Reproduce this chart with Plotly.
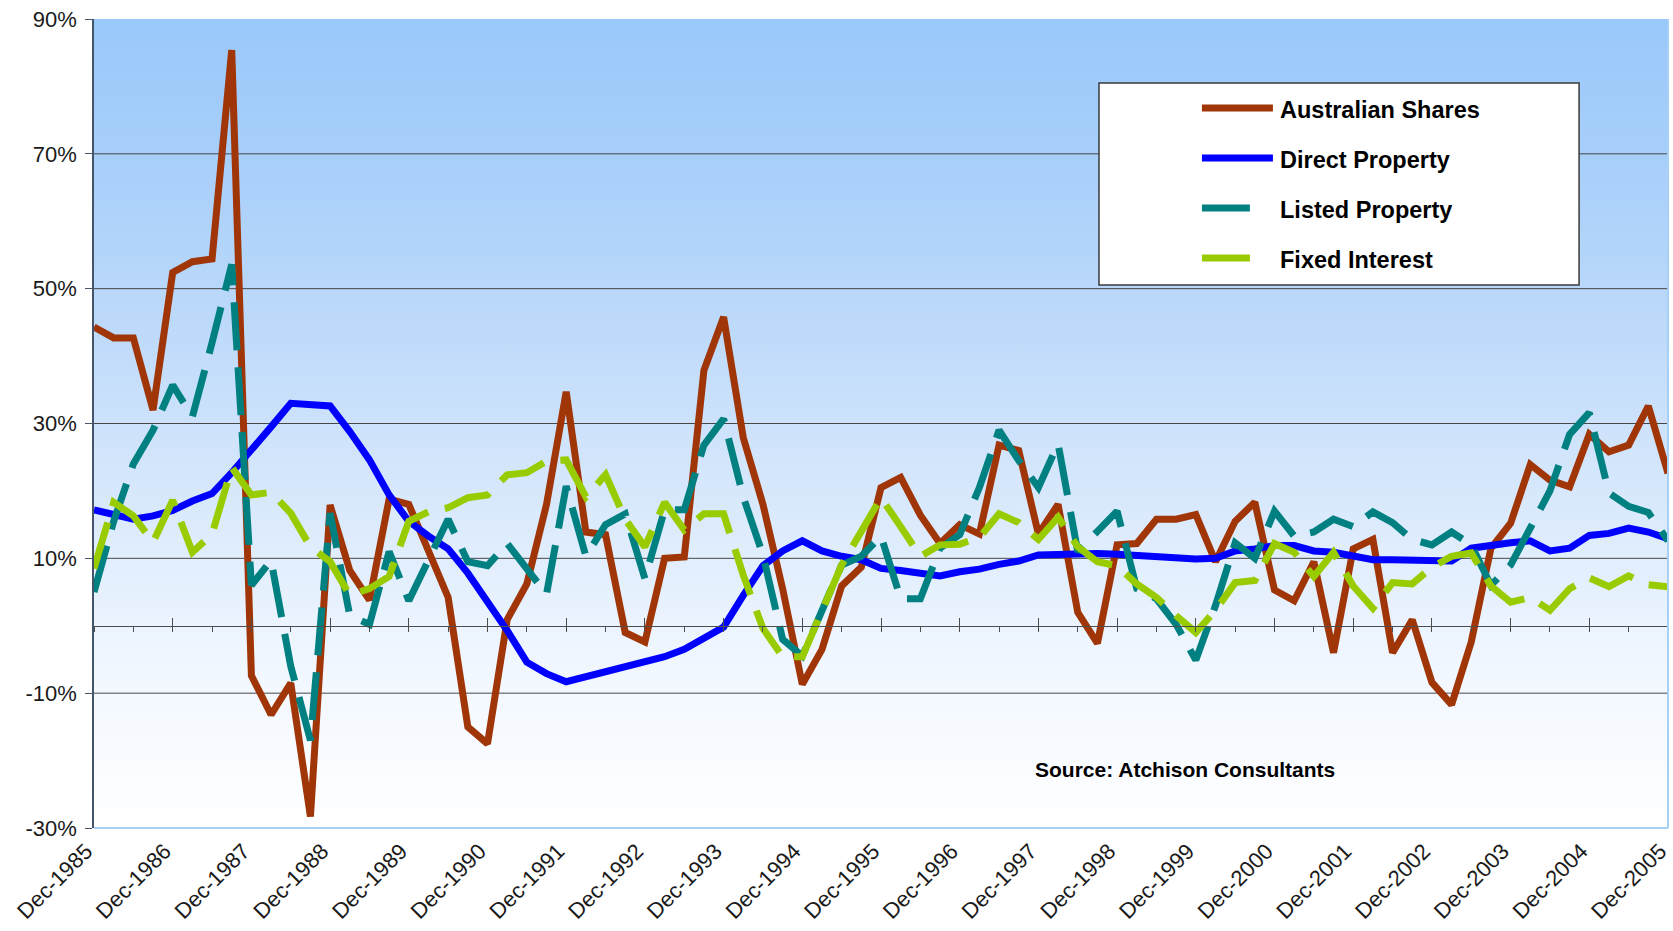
import plotly.graph_objects as go

# Quarterly observations, Dec-1985 through Dec-2005
MONTHS = ["Mar", "Jun", "Sep", "Dec"]
quarters = ["Dec-1985"] + [f"{m}-{y}" for y in range(1986, 2006) for m in MONTHS]

# Rolling annual returns (%)
australian_shares = [
    44.3, 42.7, 42.7, 32.0, 52.4, 54.0, 54.4, 85.4, -7.4, -13.2,
    -8.5, -28.3, 17.9, 8.2, 3.8, 18.8, 18.0, 11.2, 4.2, -15.0,
    -17.5, 0.9, 6.2, 18.0, 34.7, 13.9, 13.5, -1.0, -2.4, 10.0,
    10.2, 37.9, 45.8, 27.9, 18.0, 5.5, -8.7, -3.5, 5.9, 8.7,
    20.5, 22.0, 16.4, 12.2, 15.0, 13.6, 26.8, 26.0, 13.6, 18.0,
    2.0, -2.6, 12.0, 12.2, 15.8, 15.8, 16.5, 9.5, 15.5, 18.3,
    5.3, 3.7, 9.5, -4.0, 11.4, 12.8, -4.0, 0.9, -8.4, -11.7,
    -2.4, 11.5, 15.2, 23.9, 21.6, 20.6, 28.4, 25.8, 26.8, 32.6,
    22.6,
]
direct_property = [
    17.2, 16.5, 15.8, 16.3, 17.1, 18.5, 19.6, 22.7, 26.0, 29.5,
    33.0, 32.9, 32.6, 28.8, 24.6, 19.4, 15.5, 13.3, 11.4, 7.8,
    3.7, -0.7, -5.4, -7.1, -8.3, -7.6, -6.8, -6.0, -5.3, -4.6,
    -3.5, -1.8, -0.2, 4.5, 8.9, 11.1, 12.6, 11.1, 10.3, 9.8,
    8.5, 8.2, 7.7, 7.4, 8.0, 8.4, 9.1, 9.6, 10.5, 10.6,
    10.7, 10.7, 10.6, 10.4, 10.3, 10.2, 9.9, 10.0, 11.1, 11.4,
    11.9, 11.9, 11.1, 10.9, 10.4, 9.8, 9.8, 9.8, 9.8, 9.6,
    11.5, 12.0, 12.3, 12.6, 11.1, 11.5, 13.4, 13.7, 14.5, 13.9,
    12.9,
]
listed_property = [
    5.0, 15.5, 24.0, 29.0, 35.7, 31.0, 42.0, 53.6, 6.0, 9.7,
    -6.0, -17.0, 16.7, 1.5, 0.2, 11.0, 3.7, 10.0, 15.8, 9.5,
    8.9, 12.2, 8.5, 4.7, 20.7, 10.3, 15.0, 16.6, 7.0, 17.2,
    17.2, 26.8, 30.7, 19.1, 10.5, -2.0, -4.5, 2.5, 9.0, 10.3,
    13.3, 4.0, 4.0, 11.5, 13.5, 20.5, 29.0, 24.5, 20.5, 27.0,
    11.0, 14.0, 17.0, 5.5, 4.0, 0.2, -5.1, 3.0, 12.3, 10.0,
    17.0, 13.3, 13.9, 15.8, 14.7, 16.9, 15.3, 12.8, 12.0, 13.9,
    12.0, 6.0, 9.0, 14.5, 20.0, 28.4, 31.6, 19.7, 17.7, 16.8,
    12.6,
]
fixed_interest = [
    8.5, 18.3, 16.3, 12.4, 18.6, 10.9, 13.6, 23.5, 19.4, 19.8,
    16.7, 11.7, 9.5, 4.5, 5.5, 7.3, 15.5, 16.9, 17.5, 19.0,
    19.4, 22.4, 22.7, 24.4, 24.6, 19.1, 22.4, 15.8, 11.7, 18.3,
    14.2, 16.6, 16.6, 7.5, -0.4, -4.6, -4.6, 2.5, 9.0, 14.0,
    19.0, 14.7, 10.3, 12.0, 12.1, 13.1, 16.6, 15.3, 12.8, 16.1,
    11.7, 9.5, 8.9, 6.2, 4.2, 1.5, -1.0, 2.3, 6.4, 6.7,
    12.2, 10.9, 7.3, 10.9, 5.9, 2.6, 6.4, 6.2, 8.7, 10.3,
    10.8, 5.9, 3.5, 4.2, 2.3, 5.5, 7.1, 5.8, 7.4, 6.1,
    5.8,
]

series_names = ["Australian Shares", "Direct Property", "Listed Property", "Fixed Interest"]
series_colors = ["#A03508", "#0000FF", "#008080", "#99CC00"]
series_dashed = [False, False, True, True]

year_labels = quarters[::4]
half_year_ticks = quarters[::2]
y_ticks = [-30, -10, 10, 30, 50, 70, 90]
y_grid = [-10, 10, 30, 50, 70]
y_range = [-30, 90]
x_range = [0, len(quarters) - 1]

FONT = "Liberation Sans, Arial, Helvetica, sans-serif"
LINE_W = 7
DASH = "48px,17px"

fig = go.Figure()

# plot-area fill: light sky blue fading to white towards the bottom
fig.add_trace(go.Scatter(
    x=[quarters[0], quarters[-1], quarters[-1], quarters[0], quarters[0]],
    y=[y_range[0], y_range[0], y_range[1], y_range[1], y_range[0]],
    mode="lines", line=dict(width=0), fill="toself",
    fillgradient=dict(
        type="vertical", start=y_range[0], stop=y_range[1],
        colorscale=[[0, "#ffffff"], [0.2, "#f1f7ff"], [0.4, "#d9e9fc"],
                    [0.6, "#c0dbfa"], [0.8, "#aad0fa"], [1, "#99c8fa"]],
    ),
    hoverinfo="skip", showlegend=False,
))

# horizontal gridlines
for g in y_grid:
    fig.add_trace(go.Scatter(
        x=[quarters[0], quarters[-1]], y=[g, g], mode="lines",
        line=dict(color="#474747", width=1), hoverinfo="skip", showlegend=False,
    ))

# data series
for name, vals, col, dashed in zip(
    series_names,
    [australian_shares, direct_property, listed_property, fixed_interest],
    series_colors, series_dashed,
):
    fig.add_trace(go.Scatter(
        x=quarters, y=vals, mode="lines", name=name,
        line=dict(color=col, width=LINE_W, dash=DASH if dashed else "solid"),
        showlegend=False,
    ))

# empty traces that bind the zero-line tick axes to the plot
for ax in ["x2", "x3"]:
    fig.add_trace(go.Scatter(
        x=quarters, y=[None] * len(quarters), xaxis=ax, yaxis="y",
        mode="lines", hoverinfo="skip", showlegend=False,
    ))

cat_axis = dict(type="category", categoryorder="array", categoryarray=quarters,
                range=x_range, showgrid=False, zeroline=False, automargin=False)

zero_pos = (0 - y_range[0]) / (y_range[1] - y_range[0])

fig.update_layout(
    width=1673, height=931, autosize=False,
    margin=dict(l=94, r=5, t=19, b=103),
    paper_bgcolor="white", plot_bgcolor="white",
    font=dict(family=FONT, color="#1a1a1a"),
    showlegend=False,
    xaxis=dict(
        **cat_axis, tickmode="array", tickvals=year_labels, ticktext=year_labels,
        tickangle=-45, ticks="", showline=False,
        ticklabelshift=-8, ticklabelstandoff=5,
        tickfont=dict(family=FONT, size=22, color="#1a1a1a"),
    ),
    xaxis2=dict(
        **cat_axis, overlaying="x", anchor="free", position=zero_pos,
        showline=True, linecolor="#4d4d4d", linewidth=1,
        ticks="outside", ticklen=5, tickwidth=1, tickcolor="#4d4d4d",
        tickmode="array", tickvals=half_year_ticks, showticklabels=False,
        layer="above traces",
    ),
    xaxis3=dict(
        **cat_axis, overlaying="x", anchor="free", position=zero_pos,
        showline=False, ticks="inside", ticklen=8, tickwidth=1, tickcolor="#4d4d4d",
        tickmode="array", tickvals=year_labels, showticklabels=False,
        layer="above traces",
    ),
    yaxis=dict(
        range=y_range, tickmode="array", tickvals=y_ticks,
        ticktext=[f"{v}%" for v in y_ticks],
        ticks="outside", ticklen=7, tickwidth=1, tickcolor="#44546a",
        showline=True, linecolor="#44546a", linewidth=1.5,
        showgrid=False, zeroline=False, ticklabelstandoff=4, automargin=False,
        tickfont=dict(family=FONT, size=22, color="#1a1a1a"),
    ),
)

# plot-area border on the right and bottom
border = dict(color="#a6d0f5", width=2)
fig.add_shape(type="line", xref="paper", yref="paper", x0=0, x1=1, y0=0, y1=0, line=border, layer="above")
fig.add_shape(type="line", xref="paper", yref="paper", x0=1, x1=1, y0=0, y1=1, line=border, layer="above")

# legend box
fig.add_shape(type="rect", xref="paper", yref="paper",
              x0=0.6385, x1=0.9435, y0=0.6712, y1=0.9209,
              fillcolor="white", line=dict(color="#3a3a3a", width=1.5), layer="above")

legend_rows = [0.8900, 0.8282, 0.7664, 0.7046]
for name, col, dashed, yy in zip(series_names, series_colors, series_dashed, legend_rows):
    x_end = 0.7344 if dashed else 0.7490
    fig.add_shape(type="line", xref="paper", yref="paper",
                  x0=0.7039, x1=x_end, y0=yy, y1=yy,
                  line=dict(color=col, width=7), layer="above")
    fig.add_annotation(xref="paper", yref="paper", x=0.7522, y=yy - 0.002,
                       xanchor="left", yanchor="middle", showarrow=False,
                       text=f"<b>{name}</b>",
                       font=dict(family=FONT, size=23.5, color="#000000"))

fig.add_annotation(xref="paper", yref="paper", x=0.6931, y=0.0717,
                   xanchor="center", yanchor="middle", showarrow=False,
                   text="<b>Source: Atchison Consultants</b>",
                   font=dict(family=FONT, size=21, color="#000000"))

fig.write_html("out.html")
